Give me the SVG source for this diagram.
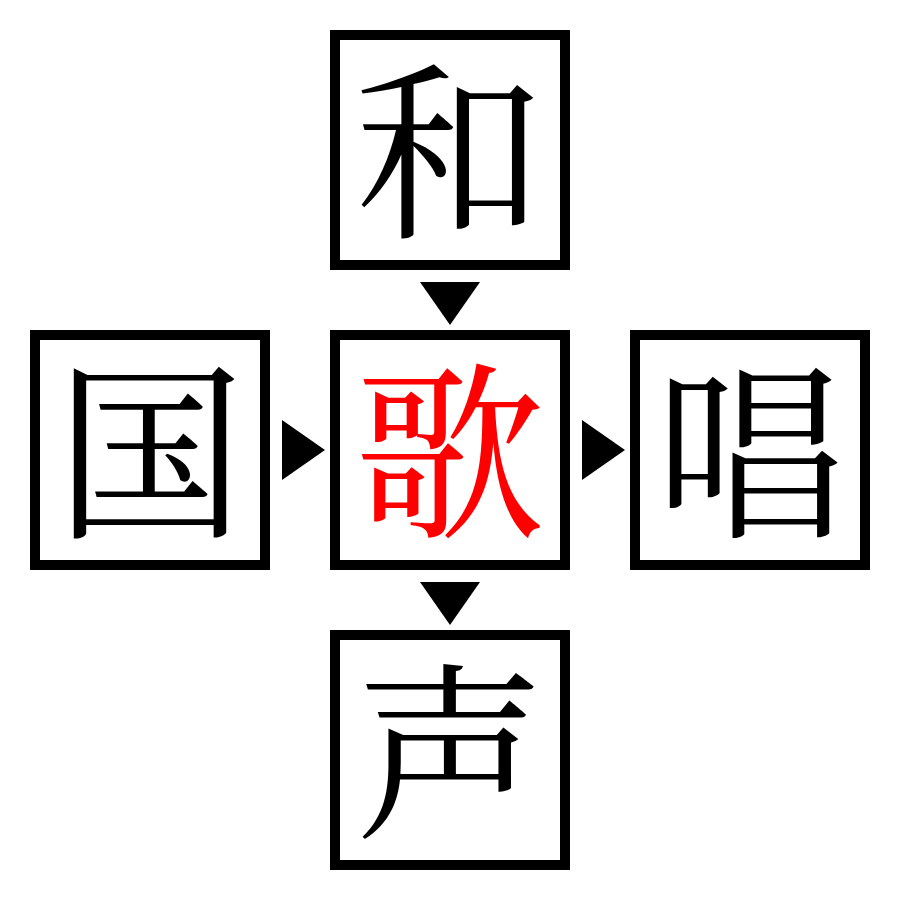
<svg xmlns="http://www.w3.org/2000/svg" width="900" height="900" viewBox="0 0 900 900">
<style>
.box{fill:#fff;stroke:#000;stroke-width:10}
.ch{font-family:"Noto Serif CJK JP","Noto Sans CJK JP",serif;font-size:190px;text-anchor:middle;dominant-baseline:central;fill:#000}
.red{fill:#f00}
.arr{fill:#000}
</style>
<rect width="900" height="900" fill="#fff"/>
<g id="connectors">
<polygon class="arr" points="420,282 480,282 450,325"/>
<polygon class="arr" points="282,420 282,480 325,450"/>
<polygon class="arr" points="582,420 582,480 625,450"/>
<polygon class="arr" points="420,582 480,582 450,625"/>
</g>
<g id="node-wa"><rect class="box" x="335" y="35" width="230" height="230"/><text class="ch" x="450" y="140">和</text></g>
<g id="node-koku"><rect class="box" x="35" y="335" width="230" height="230"/><text class="ch" x="150" y="440">国</text></g>
<g id="node-uta"><rect class="box" x="335" y="335" width="230" height="230"/><text class="ch red" x="450" y="440">歌</text></g>
<g id="node-shou"><rect class="box" x="635" y="335" width="230" height="230"/><text class="ch" x="750" y="440">唱</text></g>
<g id="node-sei"><rect class="box" x="335" y="635" width="230" height="230"/><text class="ch" x="450" y="740">声</text></g>
</svg>
